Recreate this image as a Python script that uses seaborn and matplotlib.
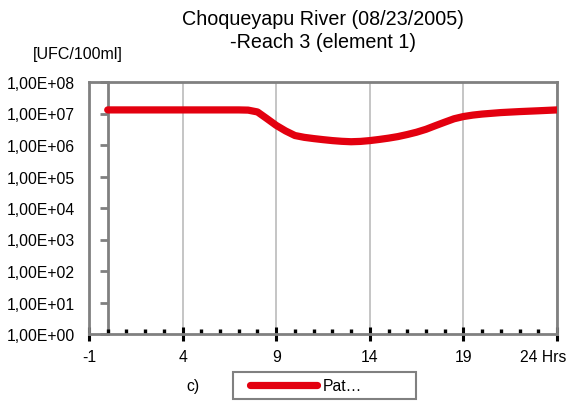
import numpy as np
import pandas as pd
import seaborn as sns
import matplotlib
matplotlib.use("Agg")
import matplotlib.pyplot as plt
import matplotlib.ticker as mticker
import matplotlib.transforms as mtransforms
from matplotlib.patches import Rectangle
from matplotlib.lines import Line2D

# Pathogen concentration over the day, Choqueyapu River, reach 3 (element 1)
hours = [0, 1, 2, 3, 4, 5, 6, 7, 7.5, 8, 8.5, 9, 9.5, 10, 10.5, 11, 11.5, 12,
         12.5, 13, 13.5, 14, 14.5, 15, 15.5, 16, 16.5, 17, 17.5, 18, 18.5, 19,
         19.5, 20, 21, 22, 23, 24]
concentration = [1.3e7, 1.3e7, 1.3e7, 1.3e7, 1.3e7, 1.3e7, 1.3e7, 1.3e7, 1.28e7,
                 1.12e7, 6.9e6, 4.2e6, 2.8e6, 2.0e6, 1.75e6, 1.6e6, 1.48e6, 1.38e6,
                 1.31e6, 1.27e6, 1.3e6, 1.38e6, 1.5e6, 1.65e6, 1.85e6, 2.15e6,
                 2.55e6, 3.15e6, 4.1e6, 5.3e6, 6.8e6, 8.0e6, 8.9e6, 9.6e6, 1.07e7,
                 1.15e7, 1.22e7, 1.3e7]
series_label = "Pat\u2026"

x_ticks = [-1, 4, 9, 14, 19, 24]
x_tick_labels = ["-1", "4", "9", "14", "19", "24 Hrs"]
y_ticks = [1e0, 1e1, 1e2, 1e3, 1e4, 1e5, 1e6, 1e7, 1e8]
y_tick_labels = ["1,00E+00", "1,00E+01", "1,00E+02", "1,00E+03", "1,00E+04",
                 "1,00E+05", "1,00E+06", "1,00E+07", "1,00E+08"]

title = "Choqueyapu River (08/23/2005)\n-Reach 3 (element 1)"
y_unit = "[UFC/100ml]"
panel_tag = "c)"

sns.set_style("white")
plt.rcParams["font.family"] = ["Liberation Sans", "DejaVu Sans"]
plt.rcParams["text.color"] = "black"
plt.rcParams["xtick.labelcolor"] = "black"
plt.rcParams["ytick.labelcolor"] = "black"

RED = "#e3000f"
FRAME = "#808080"
GRID = "#c0c0c0"

fig = plt.figure(figsize=(5.66, 4.02), dpi=100)
ax = fig.add_axes([89 / 566, 1 - 335 / 402, 468 / 566, 252 / 402])

df = pd.DataFrame({"hours": hours, "concentration": concentration})
sns.lineplot(data=df, x="hours", y="concentration", ax=ax, color=RED,
             linewidth=5.2, solid_capstyle="round", solid_joinstyle="round",
             legend=False, zorder=5)

ax.set_yscale("log")
ax.set_xlim(-1, 24)
ax.set_ylim(1, 1e8)
ax.set_xlabel("")
ax.set_ylabel("")

# x axis: major ticks every 5 h, minor every hour
ax.xaxis.set_major_locator(mticker.FixedLocator(x_ticks))
ax.xaxis.set_major_formatter(mticker.FixedFormatter(x_tick_labels))
ax.xaxis.set_minor_locator(mticker.MultipleLocator(1))
ax.tick_params(axis="x", which="both", bottom=True)
ax.tick_params(axis="x", which="major", direction="inout", length=10, width=2.2,
               color="black", labelsize=11.3, pad=6)
ax.tick_params(axis="x", which="minor", direction="in", length=3.5, width=2.4,
               color="black")
ax.grid(True, axis="x", which="major", color=GRID, linewidth=1.3)
ax.grid(False, axis="y")

# y axis labels on the frame, ticks on the axis line at hour 0
ax.yaxis.set_major_locator(mticker.FixedLocator(y_ticks))
ax.yaxis.set_major_formatter(mticker.FixedFormatter(y_tick_labels))
ax.yaxis.set_minor_locator(mticker.NullLocator())
ax.tick_params(axis="y", which="major", length=0, labelsize=11.3, pad=10)

for side in ["left", "right", "top", "bottom"]:
    ax.spines[side].set_color(FRAME)
    ax.spines[side].set_linewidth(2)

zero_axis = ax.secondary_yaxis(1 / 25)
zero_axis.spines["left"].set_color(FRAME)
zero_axis.spines["left"].set_linewidth(2)
zero_axis.yaxis.set_major_locator(mticker.FixedLocator(y_ticks))
zero_axis.yaxis.set_minor_locator(mticker.NullLocator())
zero_axis.tick_params(axis="y", which="major", left=True, direction="out",
                      length=6, width=2, color=FRAME, labelleft=False)
zero_axis.tick_params(axis="y", which="minor", length=0)

# shift the last label so "Hrs" stays inside the figure
fig.canvas.draw()
last = ax.get_xticklabels()[-1]
last.set_horizontalalignment("right")
last.set_transform(last.get_transform() +
                   mtransforms.ScaledTranslation(9 / 100, 0, fig.dpi_scale_trans))

fig.text(323 / 566, 1 - 31 / 402, title, ha="center", va="center",
         fontsize=14.2, linespacing=1.25)
fig.text(78 / 566, 1 - 55 / 402, y_unit, ha="center", va="center", fontsize=11.5)
fig.text(193 / 566, 1 - 387 / 402, panel_tag, ha="center", va="center",
         fontsize=11.3)

# legend box
fig.patches.append(Rectangle((233 / 566, 1 - 400 / 402), 183 / 566, 27 / 402,
                             transform=fig.transFigure, facecolor="white",
                             edgecolor=FRAME, linewidth=1.5))
handle = Line2D([], [], color=RED, linewidth=5.2, solid_capstyle="round")
fig.legend([handle], [series_label], loc="center left",
           bbox_to_anchor=(250 / 566, 1 - 387 / 402), frameon=False,
           fontsize=11.3, handlelength=4.3, handletextpad=0.35,
           borderpad=0, borderaxespad=0)

fig.savefig("out.png", dpi=100, facecolor="white")
